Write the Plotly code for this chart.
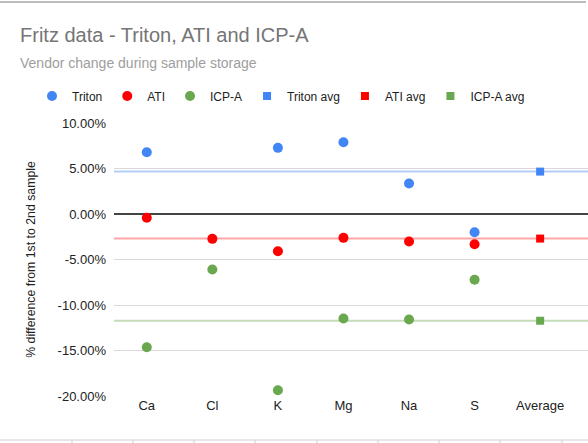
import plotly.graph_objects as go

categories = ["Ca", "Cl", "K", "Mg", "Na", "S"]
avg_category = "Average"

triton = [6.79, None, 7.27, 7.89, 3.35, -2.00]
ati = [-0.42, -2.73, -4.09, -2.62, -3.02, -3.32]
icpa = [-14.64, -6.10, -19.36, -11.48, -11.59, -7.23]

triton_avg = 4.66
ati_avg = -2.70
icpa_avg = -11.73

y_ticks = [-20, -15, -10, -5, 0, 5, 10]

BLUE = "#4285F4"
RED = "#FF0000"
GREEN = "#6AA84F"
FONT = "Liberation Sans, Arial, sans-serif"

W, H = 588, 443
L, R, T, B = 114, 0, 123, 47

fig = go.Figure()

fig.add_trace(go.Scatter(x=categories, y=triton, mode="markers", name="Triton",
                         marker=dict(color=BLUE, size=10, symbol="circle")))
fig.add_trace(go.Scatter(x=categories, y=ati, mode="markers", name="ATI",
                         marker=dict(color=RED, size=10, symbol="circle")))
fig.add_trace(go.Scatter(x=categories, y=icpa, mode="markers", name="ICP-A",
                         marker=dict(color=GREEN, size=10, symbol="circle")))
fig.add_trace(go.Scatter(x=[avg_category], y=[triton_avg], mode="markers", name="Triton avg",
                         marker=dict(color=BLUE, size=8, symbol="square")))
fig.add_trace(go.Scatter(x=[avg_category], y=[ati_avg], mode="markers", name="ATI avg",
                         marker=dict(color=RED, size=8, symbol="square")))
fig.add_trace(go.Scatter(x=[avg_category], y=[icpa_avg], mode="markers", name="ICP-A avg",
                         marker=dict(color=GREEN, size=8, symbol="square")))

shapes = []
for val, col in [(triton_avg, "rgba(66,133,244,0.4)"),
                 (ati_avg, "rgba(255,0,0,0.35)"),
                 (icpa_avg, "rgba(106,168,79,0.4)")]:
    shapes.append(dict(type="line", xref="paper", x0=0, x1=1, yref="y", y0=val, y1=val,
                       line=dict(color=col, width=2), layer="below"))

pw = W - L - R
ph = H - T - B
def px_x(p):
    return (p - L) / pw
def px_y(p):
    return (H - B - p) / ph

# frame lines of the screenshot (top border, spreadsheet row below)
shapes.append(dict(type="line", xref="paper", yref="paper", x0=px_x(0), x1=px_x(586),
                   y0=px_y(2), y1=px_y(2), line=dict(color="#bdbdbd", width=2)))
shapes.append(dict(type="line", xref="paper", yref="paper", x0=px_x(0), x1=px_x(588),
                   y0=px_y(440), y1=px_y(440), line=dict(color="#d0d0d0", width=1)))
for xx in [72, 133, 194, 255, 317, 378, 439, 500, 562]:
    shapes.append(dict(type="line", xref="paper", yref="paper", x0=px_x(xx), x1=px_x(xx),
                       y0=px_y(440), y1=px_y(443), line=dict(color="#d0d0d0", width=1)))

fig.update_layout(
    width=W, height=H,
    margin=dict(l=L, r=R, t=T, b=B, autoexpand=False),
    paper_bgcolor="white", plot_bgcolor="white",
    font=dict(family=FONT, size=13, color="#222222"),
    showlegend=True,
    annotations=[
        dict(text="Fritz data - Triton, ATI and ICP-A", xref="paper", yref="paper",
             x=px_x(18), y=px_y(35), xanchor="left", yanchor="middle",
             showarrow=False, font=dict(family=FONT, size=20, color="#757575")),
        dict(text="Vendor change during sample storage", xref="paper", yref="paper",
             x=px_x(18), y=px_y(63), xanchor="left", yanchor="middle",
             showarrow=False, font=dict(family=FONT, size=14, color="#9e9e9e")),
    ],
    legend=dict(orientation="h", x=px_x(32), xanchor="left",
                y=px_y(96), yanchor="middle", font=dict(family=FONT, size=12, color="#222222"),
                itemwidth=30, bgcolor="rgba(0,0,0,0)"),
    shapes=shapes,
    xaxis=dict(type="category", categoryorder="array",
               categoryarray=categories + [avg_category],
               range=[-0.5, 6.73], showgrid=False, zeroline=False, showline=False,
               ticks="", tickfont=dict(size=13, color="#222222"), fixedrange=True),
    yaxis=dict(range=[-20, 10], tickvals=y_ticks, ticktext=[f"{v:.2f}%" for v in y_ticks],
               showgrid=True, gridcolor="#d9d9d9", gridwidth=1,
               zeroline=True, zerolinecolor="#444444", zerolinewidth=1.5,
               showline=False, ticks="", ticklabelstandoff=7,
               tickfont=dict(size=13, color="#222222"),
               title=dict(text="% difference from 1st to 2nd sample",
                          font=dict(size=12.3, color="#222222"), standoff=19),
               automargin=False),
)

fig.write_html("out.html", config={"displayModeBar": False},
               post_script="document.body.style.margin='0';document.body.style.overflow='hidden';")
